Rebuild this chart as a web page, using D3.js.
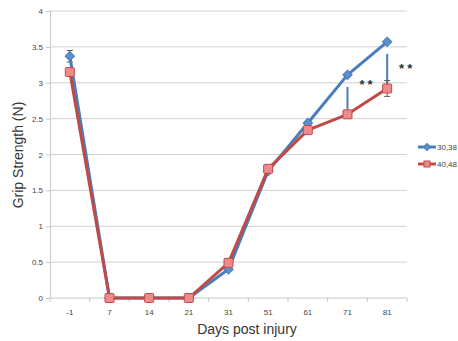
<!DOCTYPE html>
<html>
<head>
<meta charset="utf-8">
<script src="https://cdn.jsdelivr.net/npm/d3@7"></script>
<style>
  html, body { margin: 0; padding: 0; background: #fff; }
  svg { display: block; font-family: "Liberation Sans", Arial, sans-serif; }
</style>
</head>
<body>
<svg id="chart" width="458" height="341"></svg>
<script>
// Days post injury (categories) and mean grip strength for the two groups
const days = ["-1", "7", "14", "21", "31", "51", "61", "71", "81"];
const group3038 = [3.37, 0, 0, 0, 0.40, 1.77, 2.44, 3.11, 3.57];
const group4048 = [3.15, 0, 0, 0, 0.49, 1.80, 2.34, 2.56, 2.92];
// Error bars (upper / lower) where they are visible
const err3038 = [0.08, 0, 0, 0, 0, 0, 0, 0, 0];
const err4048 = [0.02, 0, 0, 0, 0, 0, 0, 0, 0.11];
const yTicks = [0, 0.5, 1, 1.5, 2, 2.5, 3, 3.5, 4];
const seriesNames = ["30,38", "40,48"];
// Significance markers between groups
const sigDays = ["71", "81"];
const sigLabels = ["**", "**"];

const svg = d3.select("#chart");
const plotLeft = 50, plotRight = 407, plotTop = 11, plotBottom = 298;

const x = d3.scaleBand().domain(days).range([plotLeft, plotRight]);
const y = d3.scaleLinear().domain([0, 4]).range([plotBottom, plotTop]);
const cx = d => x(d) + x.bandwidth() / 2;

const blue = "#4a7ebb", blueFill = "#5b8fd0";
const red = "#be4b48", redFill = "#f08a8a";

// Horizontal gridlines
svg.append("g").selectAll("line").data(yTicks.filter(t => t > 0)).join("line")
  .attr("x1", plotLeft).attr("x2", plotRight)
  .attr("y1", d => y(d)).attr("y2", d => y(d))
  .attr("stroke", "#d0d0d0").attr("stroke-width", 1);

// Y axis
const yAxis = svg.append("g").attr("transform", `translate(${plotLeft},0)`)
  .call(d3.axisLeft(y).tickValues(yTicks).tickSize(4).tickPadding(3).tickFormat(d => String(d)));
yAxis.select(".domain").attr("stroke", "#c8c8c8");
yAxis.selectAll(".tick line").attr("stroke", "#c8c8c8");
yAxis.selectAll("text").attr("font-size", 8).attr("fill", "#444").attr("font-family", null);

// X axis with ticks on band boundaries
const xg = svg.append("g").attr("transform", `translate(0,${plotBottom})`);
xg.append("line").attr("x1", plotLeft).attr("x2", plotRight).attr("y1", 0).attr("y2", 0)
  .attr("stroke", "#c8c8c8");
const bounds = days.map(d => x(d)).concat([plotRight]);
xg.selectAll("line.tk").data(bounds).join("line").attr("class", "tk")
  .attr("x1", d => d).attr("x2", d => d).attr("y1", 0).attr("y2", 4)
  .attr("stroke", "#c8c8c8");
xg.selectAll("text").data(days).join("text")
  .attr("x", d => cx(d)).attr("y", 17)
  .attr("text-anchor", "middle").attr("font-size", 8).attr("fill", "#444")
  .text(d => d);

// Axis titles
svg.append("text").attr("x", 247).attr("y", 334).attr("text-anchor", "middle")
  .attr("font-size", 14).attr("fill", "#333").text("Days post injury");
svg.append("text").attr("transform", `translate(23,155) rotate(-90)`)
  .attr("text-anchor", "middle").attr("font-size", 14).attr("fill", "#333")
  .text("Grip Strength (N)");

// Significance bars (blue vertical connectors) and asterisks
sigDays.forEach((d) => {
  const i0 = days.indexOf(d);
  const yb = y(group3038[i0]), yr = y(group4048[i0]);
  svg.append("line").attr("x1", cx(d)).attr("x2", cx(d))
    .attr("y1", yb + 12).attr("y2", yr - 5)
    .attr("stroke", blue).attr("stroke-width", 2);
});
svg.append("text").attr("x", cx("71") + 20).attr("y", 89).attr("text-anchor", "middle")
  .attr("font-size", 13).attr("font-weight", "bold").attr("letter-spacing", 3)
  .attr("fill", "#333").text(sigLabels[0]);
svg.append("text").attr("x", cx("81") + 20).attr("y", 73).attr("text-anchor", "middle")
  .attr("font-size", 13).attr("font-weight", "bold").attr("letter-spacing", 3)
  .attr("fill", "#333").text(sigLabels[1]);

const line = d3.line().x((d, i) => cx(days[i])).y(d => y(d));

function drawErr(vals, errs, color) {
  const g = svg.append("g");
  vals.forEach((v, i) => {
    if (!errs[i]) return;
    const xc = cx(days[i]);
    g.append("line").attr("x1", xc).attr("x2", xc)
      .attr("y1", y(v + errs[i])).attr("y2", y(v - errs[i]))
      .attr("stroke", color).attr("stroke-width", 1);
    [v + errs[i], v - errs[i]].forEach(e => {
      g.append("line").attr("x1", xc - 3).attr("x2", xc + 3)
        .attr("y1", y(e)).attr("y2", y(e)).attr("stroke", color).attr("stroke-width", 1);
    });
  });
}

// Series 30,38 (blue, diamonds)
drawErr(group3038, err3038, "#555");
svg.append("path").datum(group3038).attr("d", line)
  .attr("fill", "none").attr("stroke", blue).attr("stroke-width", 3).attr("stroke-linejoin", "round");
svg.append("g").selectAll("rect").data(group3038).join("rect")
  .attr("x", -3.3).attr("y", -3.3).attr("width", 6.6).attr("height", 6.6)
  .attr("transform", (d, i) => `translate(${cx(days[i])},${y(d)}) rotate(45)`)
  .attr("fill", blueFill).attr("stroke", blue).attr("stroke-width", 1);

// Series 40,48 (red, squares)
drawErr(group4048, err4048, "#555");
svg.append("path").datum(group4048).attr("d", line)
  .attr("fill", "none").attr("stroke", red).attr("stroke-width", 3).attr("stroke-linejoin", "round");
svg.append("g").selectAll("rect").data(group4048).join("rect")
  .attr("x", (d, i) => cx(days[i]) - 4.5).attr("y", d => y(d) - 4.5)
  .attr("width", 9).attr("height", 9).attr("rx", 1)
  .attr("fill", redFill).attr("stroke", red).attr("stroke-width", 1);

// Legend
const legend = svg.append("g");
[[blue, blueFill, "diamond"], [red, redFill, "square"]].forEach((s, i) => {
  const ly = 147 + i * 17;
  legend.append("line").attr("x1", 418).attr("x2", 436).attr("y1", ly).attr("y2", ly)
    .attr("stroke", s[0]).attr("stroke-width", 3);
  if (s[2] === "diamond") {
    legend.append("rect").attr("x", -2.5).attr("y", -2.5).attr("width", 5).attr("height", 5)
      .attr("transform", `translate(427,${ly}) rotate(45)`).attr("fill", s[1]).attr("stroke", s[0]);
  } else {
    legend.append("rect").attr("x", 424).attr("y", ly - 3).attr("width", 6).attr("height", 6)
      .attr("fill", s[1]).attr("stroke", s[0]);
  }
  legend.append("text").attr("x", 437).attr("y", ly + 3).attr("font-size", 8).attr("fill", "#444")
    .text(seriesNames[i]);
});
</script>
</body>
</html>
